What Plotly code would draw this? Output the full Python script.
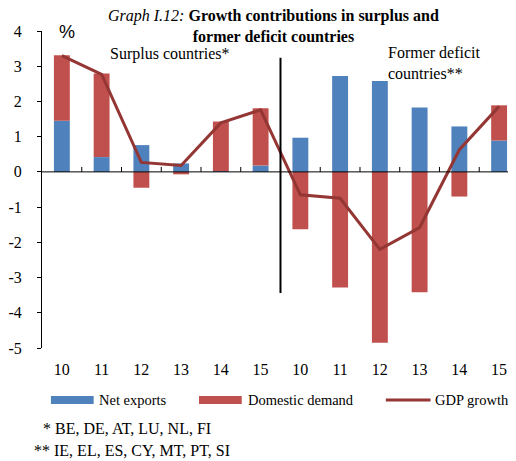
import plotly.graph_objects as go

labels = ["10", "11", "12", "13", "14", "15", "10", "11", "12", "13", "14", "15"]
net_exports = [1.45, 0.42, 0.76, 0.24, 0.02, 0.18, 0.97, 2.72, 2.58, 1.83, 1.29, 0.89]
domestic_demand = [1.86, 2.37, -0.45, -0.07, 1.41, 1.63, -1.63, -3.28, -4.85, -3.42, -0.70, 1.00]
gdp_growth = [3.30, 2.77, 0.27, 0.18, 1.39, 1.76, -0.65, -0.75, -2.20, -1.58, 0.63, 1.86]
y_ticks = [4, 3, 2, 1, 0, -1, -2, -3, -4, -5]

BLUE = "#4F81BD"
RED = "#C0504D"
LINE = "#943634"
SERIF = "Liberation Serif"

x = list(range(len(labels)))

# pixel layout (reference pixels); page body has an 8px margin
OFF = 8
L, T, W, H = 39, 31, 477, 317
def px(v):
    return (v - L) / W
def py(v):
    return (T + H - v) / H

fig = go.Figure()
fig.add_trace(go.Bar(x=x, y=net_exports, name="Net exports", marker=dict(color=BLUE, line=dict(width=0)), width=0.4))
fig.add_trace(go.Bar(x=x, y=domestic_demand, name="Domestic demand", marker=dict(color=RED, line=dict(width=0)), width=0.4))
fig.add_trace(go.Scatter(x=x, y=gdp_growth, name="GDP growth", mode="lines", line=dict(color=LINE, width=3)))

shapes = []
shapes.append(dict(type="line", xref="paper", yref="y", x0=0, x1=1, y0=0, y1=0, line=dict(color="black", width=1)))
for i in range(len(labels)):
    shapes.append(dict(type="line", xref="x", yref="y", x0=i + 0.5, x1=i + 0.5, y0=0, y1=0.14, line=dict(color="black", width=1)))
shapes.append(dict(type="line", xref="x", yref="y", x0=5.5, x1=5.5, y0=3.24, y1=-3.44, line=dict(color="black", width=2)))
shapes.append(dict(type="rect", xref="paper", yref="paper", x0=px(48), x1=px(91), y0=py(396), y1=py(404), fillcolor=BLUE, line=dict(width=0)))
shapes.append(dict(type="rect", xref="paper", yref="paper", x0=px(197), x1=px(240), y0=py(396), y1=py(404), fillcolor=RED, line=dict(width=0)))
shapes.append(dict(type="line", xref="paper", yref="paper", x0=px(385), x1=px(430), y0=py(400), y1=py(400), line=dict(color=LINE, width=3)))

def note(text, x0, y0, size=16, family=SERIF, anchor="left", align="left"):
    return dict(text=text, xref="paper", yref="paper", x=px(x0), y=py(y0), xanchor=anchor, yanchor="middle",
                align=align, showarrow=False, font=dict(family=family, size=size, color="black"))

annotations = [
    note("<i>Graph I.12:</i> <b>Growth contributions in surplus and</b><br><b>former deficit countries</b>", 272, 26, anchor="center", align="center"),
    note("%", 54, 32, size=18, family="Liberation Sans"),
    note("Surplus countries*", 105, 54),
    note("Former deficit<br>countries**", 385, 63),
    note("Net exports", 94, 400, size=14.5),
    note("Domestic demand", 244, 400, size=14.5),
    note("GDP growth", 432, 400, size=14.5),
    note("* BE, DE, AT, LU, NL, FI", 38, 428),
    note("** IE, EL, ES, CY, MT, PT, SI", 29, 450),
]

fig.update_layout(
    width=516 - OFF, height=461 - OFF,
    margin=dict(l=L - OFF, r=0, t=T - OFF, b=461 - T - H),
    barmode="relative",
    showlegend=False,
    plot_bgcolor="white", paper_bgcolor="white",
    shapes=shapes, annotations=annotations,
    font=dict(family=SERIF, size=16, color="black"),
    xaxis=dict(range=[-0.5, 11.425], tickmode="array", tickvals=x, ticktext=labels,
               showline=False, showgrid=False, zeroline=False, ticks="",
               tickfont=dict(family=SERIF, size=16, color="black"), ticklabelstandoff=10),
    yaxis=dict(range=[-5, 4], tickmode="array", tickvals=y_ticks, ticktext=[str(v) for v in y_ticks],
               showline=True, linecolor="black", linewidth=1, ticks="outside", ticklen=4, tickcolor="black",
               showgrid=False, zeroline=False,
               tickfont=dict(family=SERIF, size=16, color="black"), ticklabelstandoff=12),
)

fig.write_html("out.html")
